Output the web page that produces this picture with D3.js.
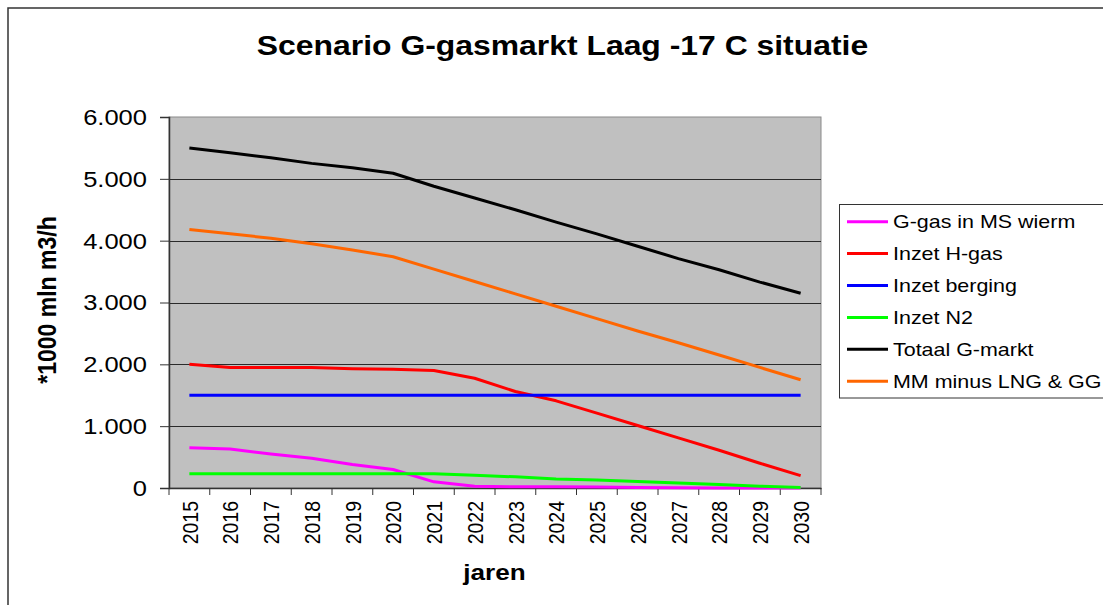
<!DOCTYPE html>
<html>
<head>
<meta charset="utf-8">
<script src="https://cdn.jsdelivr.net/npm/d3@7"></script>
<style>
  html, body { margin: 0; padding: 0; background: #fff; }
  svg { display: block; font-family: "Liberation Sans", Arial, Helvetica, sans-serif; }
</style>
</head>
<body>
<svg id="chart" width="1103" height="605"></svg>
<script>
// Years on the category axis
const years = ["2015","2016","2017","2018","2019","2020","2021","2022",
               "2023","2024","2025","2026","2027","2028","2029","2030"];

// Series values (*1000 mln m3/h)
const gGasMsWierm = [650, 630, 550, 480, 380, 300, 100, 30, 20, 20, 15, 10, 5, 0, 0, 0];
const inzetHGas   = [2000, 1950, 1950, 1950, 1930, 1920, 1900, 1775, 1560, 1410, 1210, 1010, 810, 610, 400, 200];
const inzetBerging = [1500, 1500, 1500, 1500, 1500, 1500, 1500, 1500, 1500, 1500, 1500, 1500, 1500, 1500, 1500, 1500];
const inzetN2     = [230, 230, 230, 230, 230, 230, 230, 205, 180, 145, 130, 105, 80, 55, 30, 10];
const totaalGMarkt = [5500, 5420, 5340, 5250, 5180, 5090, 4880, 4690, 4500, 4300, 4110, 3910, 3710, 3530, 3330, 3150];
const mmMinusLngGg = [4180, 4110, 4040, 3950, 3850, 3740, 3540, 3340, 3140, 2940, 2740, 2540, 2350, 2150, 1950, 1750];

const seriesNames = ["G-gas in MS wierm", "Inzet H-gas", "Inzet berging", "Inzet N2", "Totaal G-markt", "MM minus LNG & GG"];
const seriesColors = ["#ff00ff", "#ff0000", "#0000ff", "#00ff00", "#000000", "#ff6600"];
const seriesValues = [gGasMsWierm, inzetHGas, inzetBerging, inzetN2, totaalGMarkt, mmMinusLngGg];

const yTicks = [0, 1000, 2000, 3000, 4000, 5000, 6000];
const fmt = v => v === 0 ? "0" : d3.format(",")(v).replace(/,/g, ".");

const title = "Scenario G-gasmarkt Laag -17 C situatie";
const xTitle = "jaren";
const yTitle = "*1000 mln m3/h";

// Text is rendered slightly wide, as in the original chart export
const SX = 1.16;

const svg = d3.select("#chart");

// Outer chart frame
svg.append("rect")
  .attr("x", 8).attr("y", 8).attr("width", 1200).attr("height", 700)
  .attr("fill", "#fff").attr("stroke", "#333").attr("stroke-width", 1.5);

const plot = { left: 169, right: 821, top: 117, bottom: 488 };

const x = d3.scaleBand().domain(years).range([plot.left, plot.right]).padding(0);
const y = d3.scaleLinear().domain([0, 6000]).range([plot.bottom, plot.top]);

// Plot background
svg.append("rect")
  .attr("x", plot.left).attr("y", plot.top)
  .attr("width", plot.right - plot.left).attr("height", plot.bottom - plot.top)
  .attr("fill", "#c0c0c0").attr("stroke", "#8a8a8a").attr("stroke-width", 1);

// Horizontal gridlines
svg.append("g")
  .selectAll("line")
  .data(yTicks.filter(t => t > 0 && t < 6000))
  .join("line")
  .attr("x1", plot.left).attr("x2", plot.right)
  .attr("y1", d => Math.round(y(d)) + 0.5).attr("y2", d => Math.round(y(d)) + 0.5)
  .attr("stroke", "#2a2a2a").attr("stroke-width", 1);

// Y axis
const yAxis = d3.axisLeft(y).tickValues(yTicks).tickSize(9).tickFormat("");
const yG = svg.append("g").attr("transform", `translate(${plot.left},0)`).call(yAxis);
yG.select(".domain").attr("stroke", "#333").attr("stroke-width", 1.5);
yG.selectAll(".tick line").attr("stroke", "#333");

svg.append("g").selectAll("text")
  .data(yTicks)
  .join("text")
  .attr("transform", d => `translate(147,${y(d)}) scale(${SX},1)`)
  .attr("dy", "0.36em")
  .attr("text-anchor", "end")
  .attr("font-size", 22)
  .attr("fill", "#000")
  .text(fmt);

// X axis (ticks on category boundaries)
const xAxis = d3.axisBottom(x).tickSize(0).tickFormat("");
const xG = svg.append("g").attr("transform", `translate(0,${plot.bottom})`).call(xAxis);
xG.select(".domain").attr("stroke", "#333").attr("stroke-width", 1.5);
xG.selectAll(".tick").remove();
const bounds = years.map(d => x(d)).concat([x(years[years.length - 1]) + x.bandwidth()]);
xG.selectAll("line.bound")
  .data(bounds)
  .join("line")
  .attr("class", "bound")
  .attr("x1", d => d).attr("x2", d => d)
  .attr("y1", 0).attr("y2", 7)
  .attr("stroke", "#333").attr("stroke-width", 1);

svg.append("g").selectAll("text")
  .data(years)
  .join("text")
  .attr("transform", d => `translate(${x(d) + x.bandwidth() / 2},501) scale(${SX},1) rotate(-90)`)
  .attr("dy", "0.36em")
  .attr("text-anchor", "end")
  .attr("font-size", 19.5)
  .attr("fill", "#000")
  .text(d => d);

// Lines
const line = d3.line()
  .x((d, i) => x(years[i]) + x.bandwidth() / 2)
  .y(d => y(d));

svg.append("g")
  .selectAll("path")
  .data(seriesValues)
  .join("path")
  .attr("d", d => line(d))
  .attr("fill", "none")
  .attr("stroke", (d, i) => seriesColors[i])
  .attr("stroke-width", 3)
  .attr("stroke-linejoin", "round");

// Titles
svg.append("text")
  .attr("transform", `translate(562.5,55) scale(${SX},1)`)
  .attr("text-anchor", "middle")
  .attr("font-size", 27.5)
  .attr("font-weight", "bold")
  .text(title);

svg.append("text")
  .attr("transform", `translate(494.5,580) scale(${SX},1)`)
  .attr("text-anchor", "middle")
  .attr("font-size", 22.5)
  .attr("font-weight", "bold")
  .text(xTitle);

svg.append("text")
  .attr("transform", `translate(56,300) scale(${SX},1) rotate(-90)`)
  .attr("text-anchor", "middle")
  .attr("font-size", 23)
  .attr("font-weight", "bold")
  .text(yTitle);

// Legend
const legend = svg.append("g");
legend.append("rect")
  .attr("x", 839.5).attr("y", 204.5).attr("width", 400).attr("height", 193.5)
  .attr("fill", "#fff").attr("stroke", "#333").attr("stroke-width", 1);

const rows = legend.selectAll("g.row")
  .data(seriesNames)
  .join("g")
  .attr("class", "row")
  .attr("transform", (d, i) => `translate(0,${221.7 + i * 31.9})`);

rows.append("line")
  .attr("x1", 847).attr("x2", 888)
  .attr("y1", 0).attr("y2", 0)
  .attr("stroke", (d, i) => seriesColors[i])
  .attr("stroke-width", 3);

rows.append("text")
  .attr("transform", `translate(893,0) scale(${SX},1)`)
  .attr("dy", "0.36em")
  .attr("font-size", 18.5)
  .attr("fill", "#000")
  .text(d => d);
</script>
</body>
</html>
